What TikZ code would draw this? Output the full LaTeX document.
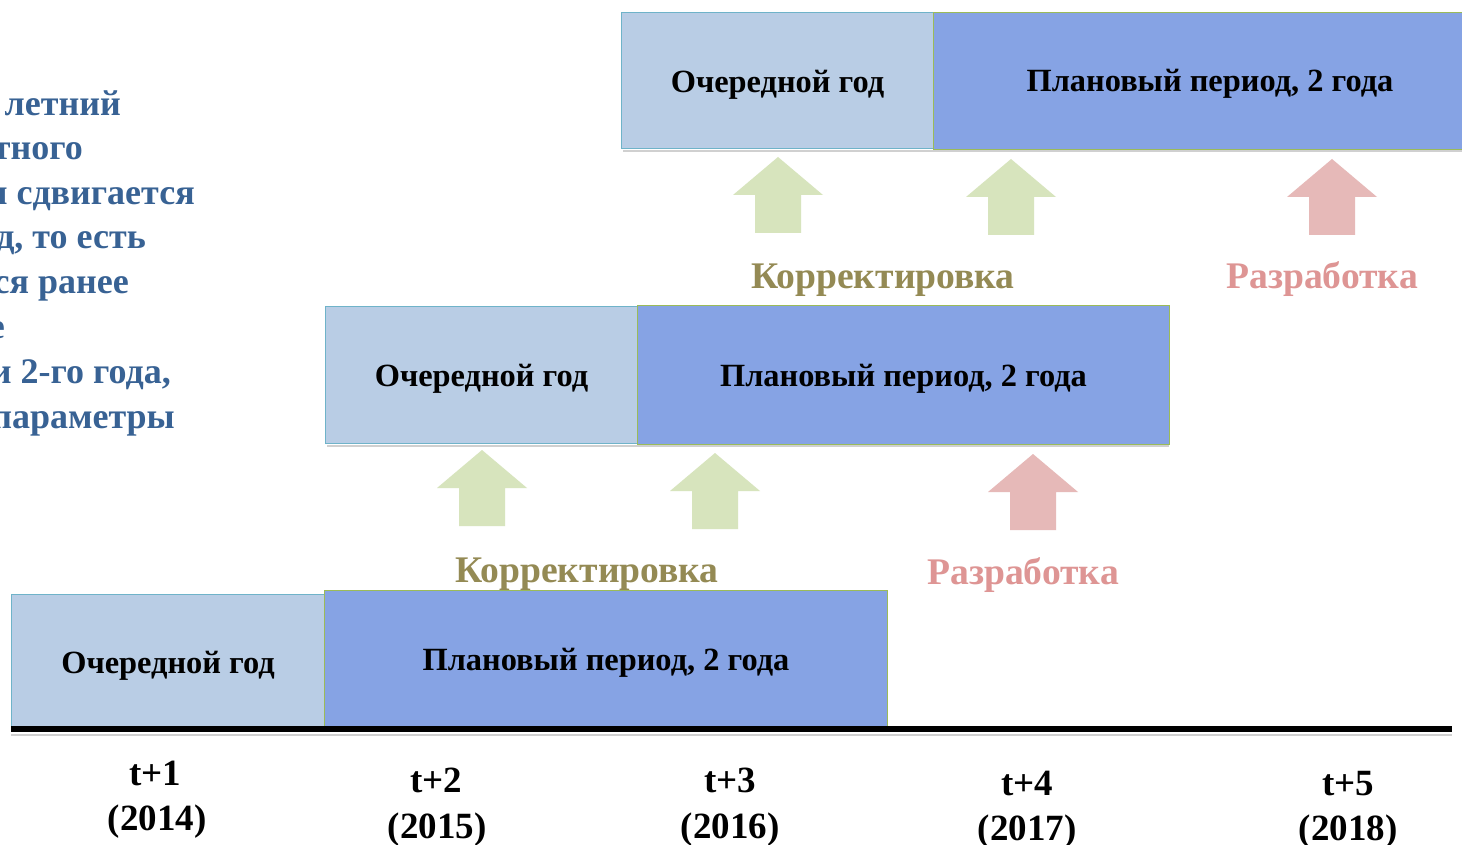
\documentclass[tikz,border=0pt]{standalone}
\usepackage{fontspec}
\setmainfont{Liberation Serif}
\definecolor{lboxc}{HTML}{B9CDE5}
\definecolor{lbord}{HTML}{6FB3C9}
\definecolor{dboxc}{HTML}{86A3E4}
\definecolor{dbord}{HTML}{9BBB59}
\definecolor{garrow}{HTML}{D7E4BD}
\definecolor{rarrow}{HTML}{E6B9B8}
\definecolor{corrc}{HTML}{948A54}
\definecolor{razc}{HTML}{DE9594}
\definecolor{leftc}{HTML}{386294}
\newcommand\myuparrow[3]{\fill[#1] (#2,#3) -- ++(45,38) -- ++(-22,0) -- ++(0,38) -- ++(-46,0) -- ++(0,-38) -- ++(-22,0) -- cycle;}
\begin{document}
\begin{tikzpicture}[x=1pt,y=-1pt,
  boxtext/.style={font=\fontsize{32.4}{38}\selectfont\bfseries, text=black, inner sep=0pt},
  lightbox/.style={draw=lbord, line width=1pt, fill=lboxc, anchor=north west, inner sep=0pt},
  darkbox/.style={draw=dbord, line width=1pt, fill=dboxc, anchor=north west, inner sep=0pt},
  corrlabel/.style={font=\fontsize{37.6}{44}\selectfont\bfseries, text=corrc, anchor=base, inner sep=0pt},
  razlabel/.style={font=\fontsize{37.6}{44}\selectfont\bfseries, text=razc, anchor=base, inner sep=0pt},
  timelabel/.style={font=\fontsize{37}{44}\selectfont\bfseries, anchor=base, inner sep=0pt},
  lefttext/.style={font=\fontsize{36}{44}\selectfont\bfseries, text=leftc, anchor=base east, inner sep=0pt},
  shadowline/.style={draw=black!30, line width=2pt, opacity=0.6}
]
\useasboundingbox (0,0) rectangle (1462,845);
\fill[white] (0,0) rectangle (1462,845);
\begin{scope}
\clip (0,0) rectangle (1462,845);
% left text (cut off at the left edge in the reference)
\node[lefttext] (l1) at (121,116) {летний};
\node[lefttext] (l2) at (83,160) {тного};
\node[lefttext] (l3) at (195,205) {и сдвигается};
\node[lefttext] (l4) at (146,249) {д, то есть};
\node[lefttext] (l5) at (129,294) {ся ранее};
\node[lefttext] (l6) at (5,338) {е};
\node[lefttext] (l7) at (171,383) {и 2-го года,};
\node[lefttext] (l8) at (175,428) {параметры};

% shadows
\draw[shadowline] (623,151) -- (1462,151);
\draw[shadowline] (327,446) -- (1169,446);
\draw[shadowline] (11,735) -- (1452,735);

% top row
\node[lightbox, minimum width=312pt, minimum height=136pt] (o3) at (621,12) {};
\node[darkbox, minimum width=545pt, minimum height=137pt] (p3) at (933,12) {};
% middle row
\node[lightbox, minimum width=312pt, minimum height=137pt] (o2) at (325,306) {};
\node[darkbox, minimum width=532pt, minimum height=139pt] (p2) at (637,305) {};
% bottom row
\node[lightbox, minimum width=313pt, minimum height=134pt] (o1) at (11,594) {};
\node[darkbox, minimum width=563pt, minimum height=138pt] (p1) at (324,590) {};

% box texts
\node[boxtext] (o3t) at ([yshift=-4pt]o3.center) {Очередной год};
\node[boxtext] (p3t) at ([xshift=4pt,yshift=-3pt]p3.center) {Плановый период, 2 года};
\node[boxtext] (o2t) at ([yshift=-4pt]o2.center) {Очередной год};
\node[boxtext] (p2t) at ([yshift=-4pt]p2.center) {Плановый период, 2 года};
\node[boxtext] (o1t) at ([yshift=-4pt]o1.center) {Очередной год};
\node[boxtext] (p1t) at ([yshift=-3pt]p1.center) {Плановый период, 2 года};

% arrows top
\myuparrow{garrow}{778}{157}
\myuparrow{garrow}{1011}{159}
\myuparrow{rarrow}{1332}{159}
% arrows middle
\myuparrow{garrow}{482}{450}
\myuparrow{garrow}{715}{453}
\myuparrow{rarrow}{1033}{454}

% labels
\node[corrlabel] (k3) at (883,288) {Корректировка};
\node[razlabel] (r3) at (1322,288) {Разработка};
\node[corrlabel] (k2) at (587,582) {Корректировка};
\node[razlabel] (r2) at (1023,584) {Разработка};

% axis
\coordinate (axL) at (11,729);
\coordinate (axR) at (1452,729);
\draw[line width=6pt] (axL) -- (axR);

% time labels
\node[timelabel] (t1) at (155,785) {t+1};
\node[timelabel] (y1) at (157,830) {(2014)};
\node[timelabel] (t2) at (436,792) {t+2};
\node[timelabel] (y2) at (437,838) {(2015)};
\node[timelabel] (t3) at (730,792) {t+3};
\node[timelabel] (y3) at (730,838) {(2016)};
\node[timelabel] (t4) at (1027,795) {t+4};
\node[timelabel] (y4) at (1027,840) {(2017)};
\node[timelabel] (t5) at (1348,795) {t+5};
\node[timelabel] (y5) at (1348,840) {(2018)};
\end{scope}
\end{tikzpicture}
\end{document}
